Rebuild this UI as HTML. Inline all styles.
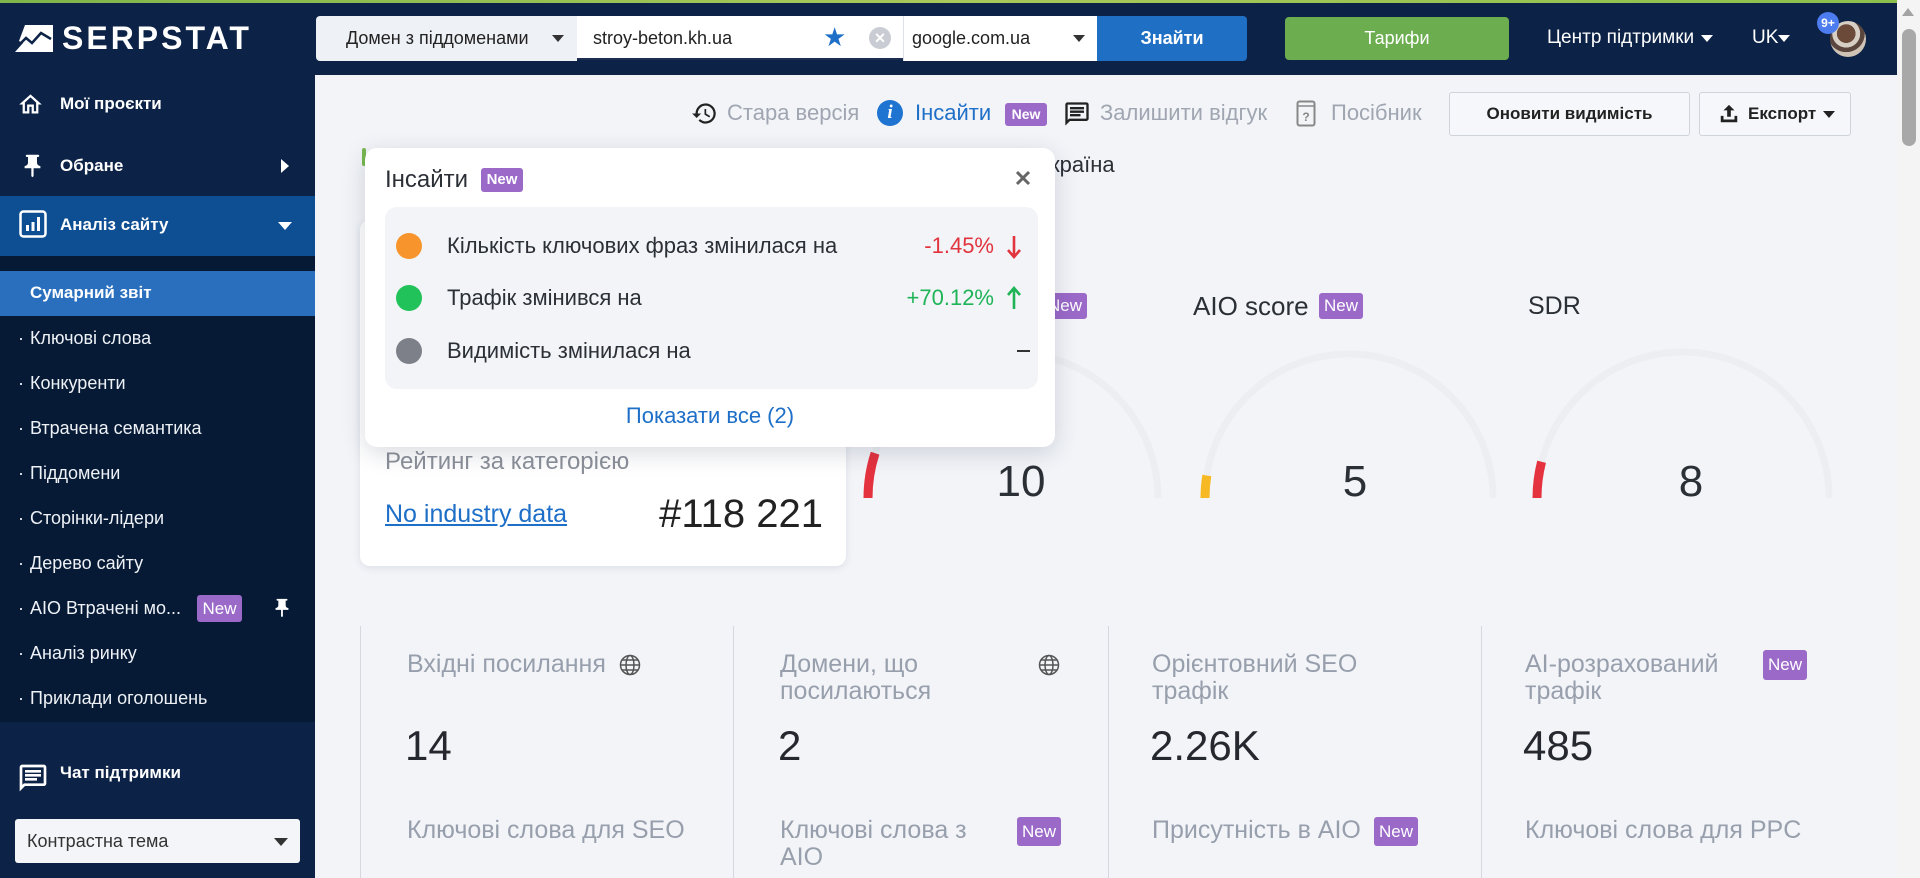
<!DOCTYPE html>
<html><head><meta charset="utf-8">
<style>
*{box-sizing:border-box;margin:0;padding:0}
body{width:1920px;height:878px;overflow:hidden;background:#f2f4f8;font-family:"Liberation Sans","DejaVu Sans",sans-serif;position:relative}
.a{position:absolute;white-space:nowrap}
.badge{position:absolute;background:#9b6ac9;color:#fff;font-weight:bold;text-align:center;border-radius:3px}
.tri{position:absolute;width:0;height:0;border-left:6px solid transparent;border-right:6px solid transparent;border-top:7px solid #333}
.sb{color:#eef1f6;font-size:18px;line-height:24px}
.lbl{font-size:25px;color:#989fac;line-height:27px}
.val{font-size:42px;color:#25282e;line-height:46px}
</style></head><body>

<!-- HEADER -->
<div class="a" style="left:0;top:0;width:1897px;height:75px;background:#0c2347"></div>
<div class="a" style="left:0;top:0;width:1897px;height:3px;background:linear-gradient(90deg,#7fb54a,#a9c95a,#8cc04c)"></div>
<svg class="a" style="left:15px;top:25px" width="38" height="27" viewBox="0 0 38 27">
<polygon points="10,0 38,0 38,27 0,27 8,18 4,16" fill="#fff"/>
<polyline points="2,22 11,13 17,18 26,8 36,14" fill="none" stroke="#0c2347" stroke-width="2.5"/>
</svg>
<div class="a" style="left:62px;top:19px;font-size:32px;line-height:38px;font-weight:bold;color:#fff;letter-spacing:3px">SERPSTAT</div>

<div class="a" style="left:316px;top:16px;width:261px;height:45px;background:#eef1f5;border-radius:4px 0 0 4px"></div>
<div class="a" style="left:346px;top:27px;font-size:18px;line-height:22px;color:#222">Домен з піддоменами</div>
<div class="tri" style="left:552px;top:35px"></div>
<div class="a" style="left:577px;top:16px;width:326px;height:44px;background:#fff;border-bottom:2px solid #1c2f52"></div>
<div class="a" style="left:593px;top:27px;font-size:18px;line-height:22px;color:#222">stroy-beton.kh.ua</div>
<div class="a" style="left:823px;top:22px;font-size:26px;line-height:30px;color:#1e6fc7">★</div>
<div class="a" style="left:869px;top:27px;width:22px;height:22px;border-radius:50%;background:#c9ccd3;color:#fff;font-size:18px;line-height:22px;text-align:center;font-weight:bold">×</div>
<div class="a" style="left:903px;top:16px;width:194px;height:45px;background:#fff;border-left:1px solid #dde1e7"></div>
<div class="a" style="left:912px;top:27px;font-size:18px;line-height:22px;color:#222">google.com.ua</div>
<div class="tri" style="left:1073px;top:35px"></div>
<div class="a" style="left:1097px;top:16px;width:150px;height:45px;background:#1f6fc5;border-radius:0 4px 4px 0;color:#fff;font-size:18px;font-weight:bold;line-height:45px;text-align:center">Знайти</div>
<div class="a" style="left:1285px;top:17px;width:224px;height:43px;background:#6cae4f;border-radius:4px;color:#fff;font-size:18px;line-height:43px;text-align:center">Тарифи</div>
<div class="a" style="left:1547px;top:26px;font-size:19px;line-height:24px;color:#fff">Центр підтримки</div>
<div class="tri" style="left:1701px;top:35px;border-top-color:#fff"></div>
<div class="a" style="left:1752px;top:26px;font-size:19px;line-height:24px;color:#fff">UK</div>
<div class="tri" style="left:1778px;top:35px;border-top-color:#fff"></div>
<div class="a" style="left:1830px;top:21px;width:36px;height:36px;border-radius:50%;background:radial-gradient(circle at 45% 35%,#6b4a3a 0 30%,#d8cfc4 31% 45%,#5a463c 46% 60%,#cfc3b5 61%)"></div>
<div class="a" style="left:1817px;top:12px;width:22px;height:22px;border-radius:50%;background:#4c7cf0;color:#fff;font-size:12px;font-weight:bold;line-height:22px;text-align:center">9+</div>

<!-- SCROLLBAR -->
<div class="a" style="left:1897px;top:0;width:23px;height:878px;background:#f4f4f4"></div>
<div class="a" style="left:1902px;top:8px;width:0;height:0;border-left:6px solid transparent;border-right:6px solid transparent;border-bottom:8px solid #a3a3a3"></div>
<div class="a" style="left:1902px;top:29px;width:14px;height:117px;background:#a8a8a8;border-radius:7px"></div>

<!-- SIDEBAR -->
<div class="a" style="left:0;top:75px;width:315px;height:803px;background:#0c2347"></div>
<svg class="a" style="left:17px;top:91px" width="27" height="27" viewBox="0 0 24 24"><path fill="#fff" d="M12 5.69l5 4.5V18h-2v-6H9v6H7v-7.81l5-4.5M12 3L2 12h3v8h6v-6h2v6h6v-8h3L12 3z"/></svg>
<div class="a" style="left:60px;top:93px;font-size:17px;line-height:22px;font-weight:bold;color:#fff">Мої проєкти</div>
<svg class="a" style="left:19px;top:152px" width="27" height="28" viewBox="0 0 24 24"><path fill="#fff" d="M16 9V4h1c.55 0 1-.45 1-1s-.45-1-1-1H7c-.55 0-1 .45-1 1s.45 1 1 1h1v5c0 1.66-1.34 3-3 3v2h5.97v7l1 1 1-1v-7H19v-2c-1.66 0-3-1.34-3-3z"/></svg>
<div class="a" style="left:60px;top:155px;font-size:17px;line-height:22px;font-weight:bold;color:#fff">Обране</div>
<div class="a" style="left:281px;top:159px;width:0;height:0;border-top:7px solid transparent;border-bottom:7px solid transparent;border-left:8px solid #fff"></div>
<div class="a" style="left:0;top:196px;width:315px;height:60px;background:#0e4e92"></div>
<svg class="a" style="left:19px;top:210px" width="28" height="28" viewBox="0 0 28 28"><rect x="1.5" y="1.5" width="25" height="25" rx="3" fill="none" stroke="#fff" stroke-width="2.5"/><rect x="7" y="15" width="3" height="6" fill="#fff"/><rect x="12.5" y="12" width="3" height="9" fill="#fff"/><rect x="18" y="7" width="3" height="14" fill="#fff"/></svg>
<div class="a" style="left:60px;top:214px;font-size:17px;line-height:22px;font-weight:bold;color:#fff">Аналіз сайту</div>
<div class="tri" style="left:278px;top:222px;border-left-width:7px;border-right-width:7px;border-top:8px solid #fff"></div>
<div class="a" style="left:0;top:256px;width:315px;height:466px;background:#061a35"></div>
<div class="a" style="left:0;top:271px;width:315px;height:45px;background:#2a6fbe"></div>
<div class="a" style="left:30px;top:282px;font-size:17px;line-height:22px;font-weight:bold;color:#fff">Сумарний звіт</div>
<div class="a sb" style="left:18px;top:326px">·</div><div class="a sb" style="left:30px;top:326px">Ключові слова</div>
<div class="a sb" style="left:18px;top:371px">·</div><div class="a sb" style="left:30px;top:371px">Конкуренти</div>
<div class="a sb" style="left:18px;top:416px">·</div><div class="a sb" style="left:30px;top:416px">Втрачена семантика</div>
<div class="a sb" style="left:18px;top:461px">·</div><div class="a sb" style="left:30px;top:461px">Піддомени</div>
<div class="a sb" style="left:18px;top:506px">·</div><div class="a sb" style="left:30px;top:506px">Сторінки-лідери</div>
<div class="a sb" style="left:18px;top:551px">·</div><div class="a sb" style="left:30px;top:551px">Дерево сайту</div>
<div class="a sb" style="left:18px;top:596px">·</div><div class="a sb" style="left:30px;top:596px">AIO Втрачені мо...</div>
<div class="badge" style="left:197px;top:595px;width:45px;height:27px;font-size:17px;line-height:27px;font-weight:normal">New</div>
<svg class="a" style="left:271px;top:595px" width="22" height="26" viewBox="0 0 24 24"><path fill="#fff" d="M16 9V4h1c.55 0 1-.45 1-1s-.45-1-1-1H7c-.55 0-1 .45-1 1s.45 1 1 1h1v5c0 1.66-1.34 3-3 3v2h5.97v7l1 1 1-1v-7H19v-2c-1.66 0-3-1.34-3-3z"/></svg>
<div class="a sb" style="left:18px;top:641px">·</div><div class="a sb" style="left:30px;top:641px">Аналіз ринку</div>
<div class="a sb" style="left:18px;top:686px">·</div><div class="a sb" style="left:30px;top:686px">Приклади оголошень</div>
<svg class="a" style="left:17px;top:762px" width="32" height="32" viewBox="0 0 24 24"><path fill="#fff" d="M20 2H4c-1.1 0-2 .9-2 2v18l4-4h14c1.1 0 2-.9 2-2V4c0-1.1-.9-2-2-2zm0 14H5.17L4 17.17V4h16v12zM6 12h9v2H6zm0-3h12v2H6zm0-3h12v2H6z"/></svg>
<div class="a" style="left:60px;top:762px;font-size:17px;line-height:22px;font-weight:bold;color:#fff">Чат підтримки</div>
<div class="a" style="left:15px;top:819px;width:285px;height:44px;background:#f3f5f8;border-radius:3px"></div>
<div class="a" style="left:27px;top:830px;font-size:18px;line-height:22px;color:#333">Контрастна тема</div>
<div class="tri" style="left:274px;top:838px;border-left-width:7px;border-right-width:7px;border-top:8px solid #333"></div>

<!-- TOOLBAR -->
<svg class="a" style="left:691px;top:100px" width="27" height="27" viewBox="0 0 24 24"><path fill="#222" d="M13 3a9 9 0 0 0-9 9H1l4 4 4-4H6a7 7 0 1 1 2.05 4.95l-1.42 1.42A9 9 0 1 0 13 3zm-1 5v5l4.25 2.52.77-1.28-3.52-2.09V8z"/></svg>
<div class="a" style="left:727px;top:100px;font-size:22px;line-height:26px;color:#a0a6b1">Стара версія</div>
<div class="a" style="left:877px;top:100px;width:26px;height:26px;border-radius:50%;background:#1e74d0;color:#fff;font-family:'Liberation Serif',serif;font-style:italic;font-weight:bold;font-size:19px;line-height:26px;text-align:center">i</div>
<div class="a" style="left:915px;top:100px;font-size:22px;line-height:26px;color:#1e6fc7">Інсайти</div>
<div class="badge" style="left:1005px;top:103px;width:42px;height:23px;font-size:14px;line-height:23px">New</div>
<svg class="a" style="left:1063px;top:100px" width="28" height="28" viewBox="0 0 24 24"><path fill="#222" d="M20 2H4c-1.1 0-2 .9-2 2v18l4-4h14c1.1 0 2-.9 2-2V4c0-1.1-.9-2-2-2zm0 14H5.17L4 17.17V4h16v12zM6 12h9v2H6zm0-3h12v2H6zm0-3h12v2H6z"/></svg>
<div class="a" style="left:1100px;top:100px;font-size:22px;line-height:26px;color:#a0a6b1">Залишити відгук</div>
<svg class="a" style="left:1296px;top:100px" width="20" height="27" viewBox="0 0 20 27"><rect x="1.5" y="1.5" width="17" height="24" rx="2" fill="none" stroke="#888" stroke-width="2"/><line x1="1.5" y1="6" x2="18.5" y2="6" stroke="#888" stroke-width="1.5"/><text x="10" y="21" font-size="12" font-family="Liberation Sans" fill="#888" text-anchor="middle" font-weight="bold">?</text></svg>
<div class="a" style="left:1331px;top:100px;font-size:22px;line-height:26px;color:#a0a6b1">Посібник</div>
<div class="a" style="left:1449px;top:92px;width:241px;height:44px;background:#f6f7fa;border:1px solid #cfd3da;border-radius:3px;color:#222;font-size:17px;font-weight:bold;line-height:42px;text-align:center">Оновити видимість</div>
<div class="a" style="left:1699px;top:92px;width:152px;height:44px;background:#f6f7fa;border:1px solid #cfd3da;border-radius:3px"></div>
<svg class="a" style="left:1718px;top:103px" width="22" height="22" viewBox="0 0 24 24"><path fill="#222" d="M12 2l-6 6h4v7h4V8h4z M3 14v7h18v-7h-3v4H6v-4z"/></svg>
<div class="a" style="left:1748px;top:103px;font-size:17px;line-height:22px;font-weight:bold;color:#222">Експорт</div>
<div class="tri" style="left:1823px;top:111px;border-top-color:#222"></div>

<!-- BEHIND POPUP -->
<div class="a" style="left:362px;top:148px;width:4px;height:18px;background:#79b851;border-radius:2px"></div>
<div class="a" style="left:1037px;top:151px;font-size:22px;line-height:28px;color:#2b2f36">Україна</div>
<div class="badge" style="left:1043px;top:293px;width:44px;height:26px;font-size:17px;line-height:26px;font-weight:normal">New</div>

<!-- RATING CARD -->
<div class="a" style="left:360px;top:220px;width:486px;height:346px;background:#fff;border-radius:10px;box-shadow:0 2px 8px rgba(30,40,70,.1)"></div>
<div class="a" style="left:385px;top:448px;font-size:24px;line-height:28px;color:#8b9099">Рейтинг за категорією</div>
<div class="a" style="left:385px;top:499px;font-size:25px;line-height:30px;color:#1e6fc7;text-decoration:underline">No industry data</div>
<div class="a" style="left:600px;top:490px;width:223px;text-align:right;font-size:40px;line-height:48px;color:#222">#118 221</div>

<!-- GAUGES -->
<svg class="a" style="left:0;top:0" width="1920" height="878">
<g fill="none" stroke-width="7">
<path d="M868 498 A145 145 0 0 1 1158 498" stroke="#eceef2"/>
<path d="M868 498 A145 145 0 0 1 875.1 453.2" stroke="#e5323f" stroke-width="9"/>
<path d="M1205 498 A144 144 0 0 1 1493 498" stroke="#eceef2"/>
<path d="M1205 498 A144 144 0 0 1 1206.8 475.5" stroke="#f6b924" stroke-width="9"/>
<path d="M1537 498 A146 146 0 0 1 1829 498" stroke="#eceef2"/>
<path d="M1537 498 A146 146 0 0 1 1541.6 461.7" stroke="#e5323f" stroke-width="9"/>
</g>
</svg>
<div class="a" style="left:1193px;top:291px;font-size:26px;line-height:30px;color:#2b2f36">AIO score</div>
<div class="badge" style="left:1319px;top:293px;width:44px;height:26px;font-size:17px;line-height:26px;font-weight:normal">New</div>
<div class="a" style="left:1528px;top:291px;font-size:25px;line-height:30px;color:#2b2f36">SDR</div>
<div class="a" style="left:971px;top:455px;width:100px;text-align:center;font-size:44px;line-height:54px;color:#2b2f36">10</div>
<div class="a" style="left:1305px;top:455px;width:100px;text-align:center;font-size:44px;line-height:54px;color:#2b2f36">5</div>
<div class="a" style="left:1641px;top:455px;width:100px;text-align:center;font-size:44px;line-height:54px;color:#2b2f36">8</div>

<!-- STATS -->
<div class="a" style="left:360px;top:626px;width:1px;height:252px;background:#d5d9df"></div>
<div class="a" style="left:733px;top:626px;width:1px;height:252px;background:#d5d9df"></div>
<div class="a" style="left:1108px;top:626px;width:1px;height:252px;background:#d5d9df"></div>
<div class="a" style="left:1481px;top:626px;width:1px;height:252px;background:#d5d9df"></div>

<div class="a lbl" style="left:407px;top:651px">Вхідні посилання</div>
<svg class="a" style="left:619px;top:654px" width="22" height="22" viewBox="0 0 22 22"><g fill="none" stroke="#555" stroke-width="1.5"><circle cx="11" cy="11" r="9.5"/><ellipse cx="11" cy="11" rx="4" ry="9.5"/><line x1="1.5" y1="11" x2="20.5" y2="11"/><line x1="3" y1="6" x2="19" y2="6"/><line x1="3" y1="16" x2="19" y2="16"/></g></svg>
<div class="a val" style="left:405px;top:723px">14</div>
<div class="a lbl" style="left:407px;top:817px">Ключові слова для SEO</div>

<div class="a lbl" style="left:780px;top:651px">Домени, що</div>
<div class="a lbl" style="left:780px;top:678px">посилаються</div>
<svg class="a" style="left:1038px;top:654px" width="22" height="22" viewBox="0 0 22 22"><g fill="none" stroke="#555" stroke-width="1.5"><circle cx="11" cy="11" r="9.5"/><ellipse cx="11" cy="11" rx="4" ry="9.5"/><line x1="1.5" y1="11" x2="20.5" y2="11"/><line x1="3" y1="6" x2="19" y2="6"/><line x1="3" y1="16" x2="19" y2="16"/></g></svg>
<div class="a val" style="left:778px;top:723px">2</div>
<div class="a lbl" style="left:780px;top:817px">Ключові слова з</div>
<div class="a lbl" style="left:780px;top:844px">AIO</div>
<div class="badge" style="left:1017px;top:817px;width:44px;height:29px;font-size:17px;line-height:29px;font-weight:normal">New</div>

<div class="a lbl" style="left:1152px;top:651px">Орієнтовний SEO</div>
<div class="a lbl" style="left:1152px;top:678px">трафік</div>
<div class="a val" style="left:1150px;top:723px">2.26K</div>
<div class="a lbl" style="left:1152px;top:817px">Присутність в AIO</div>
<div class="badge" style="left:1374px;top:817px;width:44px;height:29px;font-size:17px;line-height:29px;font-weight:normal">New</div>

<div class="a lbl" style="left:1525px;top:651px">AI-розрахований</div>
<div class="a lbl" style="left:1525px;top:678px">трафік</div>
<div class="badge" style="left:1763px;top:650px;width:44px;height:30px;font-size:17px;line-height:30px;font-weight:normal">New</div>
<div class="a val" style="left:1523px;top:723px">485</div>
<div class="a lbl" style="left:1525px;top:817px">Ключові слова для PPC</div>

<!-- POPUP -->
<div class="a" style="left:365px;top:148px;width:690px;height:299px;background:#fff;border-radius:12px;box-shadow:0 6px 24px rgba(20,30,60,.16);z-index:10">
  <div class="a" style="left:20px;top:18px;font-size:24px;line-height:28px;color:#2b2f36">Інсайти</div>
  <div class="badge" style="left:116px;top:20px;width:42px;height:24px;font-size:15px;line-height:24px">New</div>
  <svg class="a" style="left:650px;top:22px" width="16" height="16" viewBox="0 0 16 16"><path d="M2 2L14 14M14 2L2 14" stroke="#666" stroke-width="3"/></svg>
  <div class="a" style="left:20px;top:59px;width:653px;height:182px;background:#f2f4f8;border-radius:12px"></div>
  <div class="a" style="left:31px;top:85px;width:26px;height:26px;border-radius:50%;background:#f7952c"></div>
  <div class="a" style="left:82px;top:85px;font-size:22px;line-height:26px;color:#2b2f36">Кількість ключових фраз змінилася на</div>
  <div class="a" style="left:480px;top:85px;width:149px;text-align:right;font-size:22px;line-height:26px;color:#e2343f">-1.45%</div>
  <svg class="a" style="left:641px;top:87px" width="16" height="24" viewBox="0 0 16 24"><path d="M8 1V22M2 15L8 22L14 15" fill="none" stroke="#e2343f" stroke-width="2.6"/></svg>
  <div class="a" style="left:31px;top:137px;width:26px;height:26px;border-radius:50%;background:#22c25a"></div>
  <div class="a" style="left:82px;top:137px;font-size:22px;line-height:26px;color:#2b2f36">Трафік змінився на</div>
  <div class="a" style="left:480px;top:137px;width:149px;text-align:right;font-size:22px;line-height:26px;color:#1fb457">+70.12%</div>
  <svg class="a" style="left:641px;top:138px" width="16" height="24" viewBox="0 0 16 24"><path d="M8 23V2M2 9L8 2L14 9" fill="none" stroke="#1fb457" stroke-width="2.6"/></svg>
  <div class="a" style="left:31px;top:190px;width:26px;height:26px;border-radius:50%;background:#7d8089"></div>
  <div class="a" style="left:82px;top:190px;font-size:22px;line-height:26px;color:#2b2f36">Видимість змінилася на</div>
  <div class="a" style="left:652px;top:202px;width:13px;height:2px;background:#333"></div>
  <div class="a" style="left:195px;top:255px;width:300px;text-align:center;font-size:22px;line-height:26px;color:#1e6fc7">Показати все (2)</div>
</div>

</body></html>
